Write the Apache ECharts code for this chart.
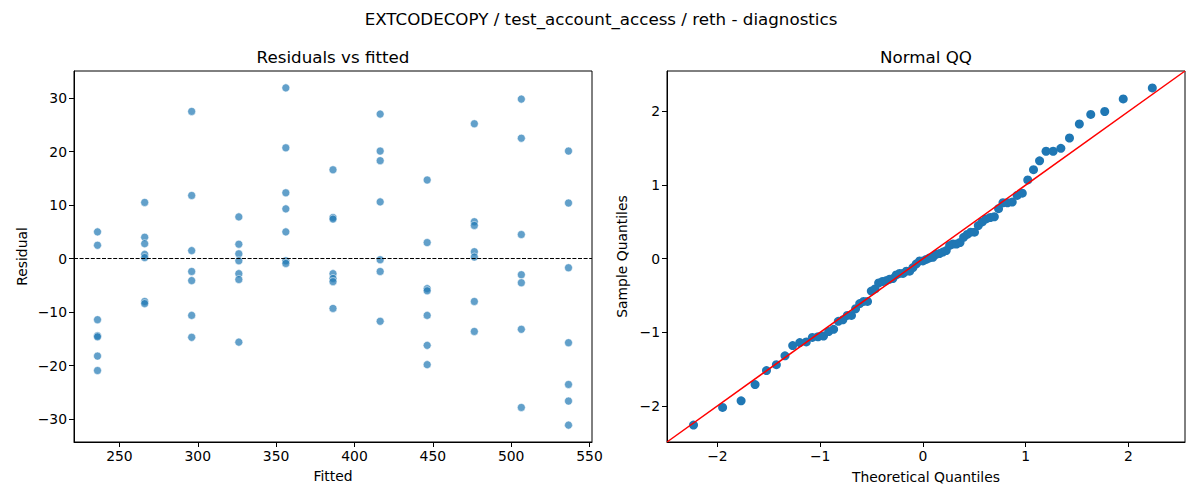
<!DOCTYPE html>
<html>
<head>
<meta charset="utf-8">
<script src="https://cdn.jsdelivr.net/npm/echarts@6/dist/echarts.min.js"></script>
<style>html,body{margin:0;padding:0;background:#fff}#c{width:1200px;height:500px}</style>
</head>
<body>
<div id="c"></div>
<script>
// ---- data ----
const fittedLevels = [236.0, 266.1, 296.1, 326.2, 356.2, 386.3, 416.4, 446.4, 476.5, 506.5, 536.6];
const residualsByLevel = [
  [5.0, 2.5, -11.4, -14.4, -14.6, -18.2, -20.9],
  [10.5, 4.0, 2.8, 0.8, 0.2, -8.0, -8.4],
  [27.5, 11.8, 1.5, -2.4, -4.1, -10.6, -14.7],
  [7.8, 2.7, 0.9, -0.4, -2.8, -3.9, -15.6],
  [31.9, 20.7, 12.3, 9.3, 5.0, -0.4, -0.9],
  [16.6, 7.7, 7.4, -2.8, -3.7, -4.3, -9.3],
  [27.0, 20.1, 18.3, 10.6, -0.2, -2.4, -11.7],
  [14.7, 3.0, -5.6, -6.0, -10.6, -16.2, -19.8],
  [25.2, 6.9, 6.2, 1.3, 0.3, -8.0, -13.6],
  [29.8, 22.5, 4.5, -3.0, -4.5, -13.2, -27.8],
  [20.1, 10.4, -1.7, -15.7, -23.5, -26.6, -31.1]
];
const theoreticalQ = [
  -2.232, -1.949, -1.769, -1.633, -1.522, -1.426, -1.342, -1.267, -1.198, -1.135,
  -1.076, -1.020, -0.967, -0.917, -0.869, -0.823, -0.779, -0.736, -0.695, -0.655,
  -0.615, -0.577, -0.539, -0.502, -0.466, -0.431, -0.396, -0.361, -0.327, -0.293,
  -0.260, -0.227, -0.194, -0.161, -0.129, -0.097, -0.064, -0.032, 0.000,
  0.032, 0.064, 0.097, 0.129, 0.161, 0.194, 0.227, 0.260, 0.293, 0.327,
  0.361, 0.396, 0.431, 0.466, 0.502, 0.539, 0.577, 0.615, 0.655, 0.695,
  0.736, 0.779, 0.823, 0.869, 0.917, 0.967, 1.020, 1.076, 1.135, 1.198,
  1.267, 1.342, 1.426, 1.522, 1.633, 1.769, 1.949, 2.232
];
const sampleQ = [
  -2.26, -2.02, -1.93, -1.71, -1.52, -1.44, -1.32, -1.18, -1.14, -1.13,
  -1.07, -1.06, -1.05, -0.99, -0.96, -0.85, -0.83, -0.77, -0.77, -0.68,
  -0.61, -0.58, -0.58, -0.44, -0.41, -0.33, -0.31, -0.30, -0.28, -0.27,
  -0.22, -0.20, -0.20, -0.17, -0.17, -0.12, -0.07, -0.03, -0.03,
  -0.01, 0.01, 0.02, 0.06, 0.07, 0.09, 0.11, 0.18, 0.20, 0.20,
  0.22, 0.29, 0.33, 0.36, 0.36, 0.45, 0.50, 0.54, 0.56, 0.57,
  0.68, 0.76, 0.76, 0.77, 0.86, 0.89, 1.07, 1.21, 1.33, 1.46,
  1.46, 1.50, 1.64, 1.83, 1.96, 2.00, 2.17, 2.32
];
const qqLineEnds = [-2.49, 2.55];
const fittedTicks = [250, 300, 350, 400, 450, 500, 550];
const residualTicks = [-30, -20, -10, 0, 10, 20, 30];
const qqTicks = [-2, -1, 0, 1, 2];
const texts = {
  suptitle: 'EXTCODECOPY / test_account_access / reth - diagnostics',
  left: 'Residuals vs fitted', right: 'Normal QQ',
  xl: 'Fitted', yl: 'Residual', xr: 'Theoretical Quantiles', yr: 'Sample Quantiles'
};

// ---- build ----
const residPoints = [];
fittedLevels.forEach((f, i) => residualsByLevel[i].forEach(r => residPoints.push([f, r])));
const qqPoints = theoreticalQ.map((t, i) => [t, sampleQ[i]]);
const FONT = 'DejaVu Sans';
const fmt = v => String(v).replace('-', '\u2212');

function axis(gridIndex, min, max, ticks, name, gap) {
  return {
    type: 'value', gridIndex, min, max, name,
    nameLocation: 'middle', nameGap: gap,
    nameTextStyle: { color: '#000', fontFamily: FONT, fontSize: 13.9 },
    axisLine: { show: true, onZero: false, lineStyle: { color: '#000', width: 1 } },
    axisTick: { show: true, inside: false, length: 5, customValues: ticks, lineStyle: { color: '#000', width: 1 } },
    axisLabel: { show: true, margin: 7, customValues: ticks, formatter: fmt, color: '#000', fontFamily: FONT, fontSize: 13.9 },
    splitLine: { show: false }
  };
}
const titleStyle = { fontFamily: FONT, fontSize: 16.7, fontWeight: 'normal', color: '#000' };

const chart = echarts.init(document.getElementById('c'), null, { renderer: 'svg', width: 1200, height: 500 });
chart.setOption({
  animation: false,
  backgroundColor: '#fff',
  title: [
    { text: texts.suptitle, left: 596, top: 5, textAlign: 'center', textStyle: titleStyle },
    { text: texts.left, left: 328, top: 43, textAlign: 'center', textStyle: titleStyle },
    { text: texts.right, left: 921, top: 43, textAlign: 'center', textStyle: titleStyle }
  ],
  grid: [
    { left: 74, top: 71, width: 518, height: 371, show: true, borderColor: '#000', borderWidth: 1, backgroundColor: 'transparent' },
    { left: 667, top: 71, width: 518, height: 371, show: true, borderColor: '#000', borderWidth: 1, backgroundColor: 'transparent' }
  ],
  xAxis: [
    axis(0, 221.0, 551.6, fittedTicks, texts.xl, 27),
    axis(1, qqLineEnds[0], qqLineEnds[1], qqTicks, texts.xr, 28)
  ],
  yAxis: [
    axis(0, -34.25, 35.05, residualTicks, texts.yl, 45),
    axis(1, qqLineEnds[0], qqLineEnds[1], qqTicks, texts.yr, 38)
  ],
  series: [
    {
      type: 'scatter', xAxisIndex: 0, yAxisIndex: 0, data: residPoints,
      symbolSize: 8,
      itemStyle: { color: '#1f77b4', opacity: 0.7, borderColor: '#fff', borderWidth: 0.75 },
      markLine: {
        silent: true, symbol: ['none', 'none'], label: { show: false },
        lineStyle: { color: '#000', type: [4, 1.6], width: 1 },
        data: [{ yAxis: 0 }]
      }
    },
    {
      type: 'scatter', xAxisIndex: 1, yAxisIndex: 1, data: qqPoints,
      symbolSize: 9,
      itemStyle: { color: '#1f77b4', opacity: 1 }
    },
    {
      type: 'line', xAxisIndex: 1, yAxisIndex: 1, z: 5,
      data: [[qqLineEnds[0], qqLineEnds[0]], [qqLineEnds[1], qqLineEnds[1]]],
      symbol: 'none', clip: true,
      lineStyle: { color: '#ff0000', width: 1.5 }
    }
  ]
});
</script>
</body>
</html>
